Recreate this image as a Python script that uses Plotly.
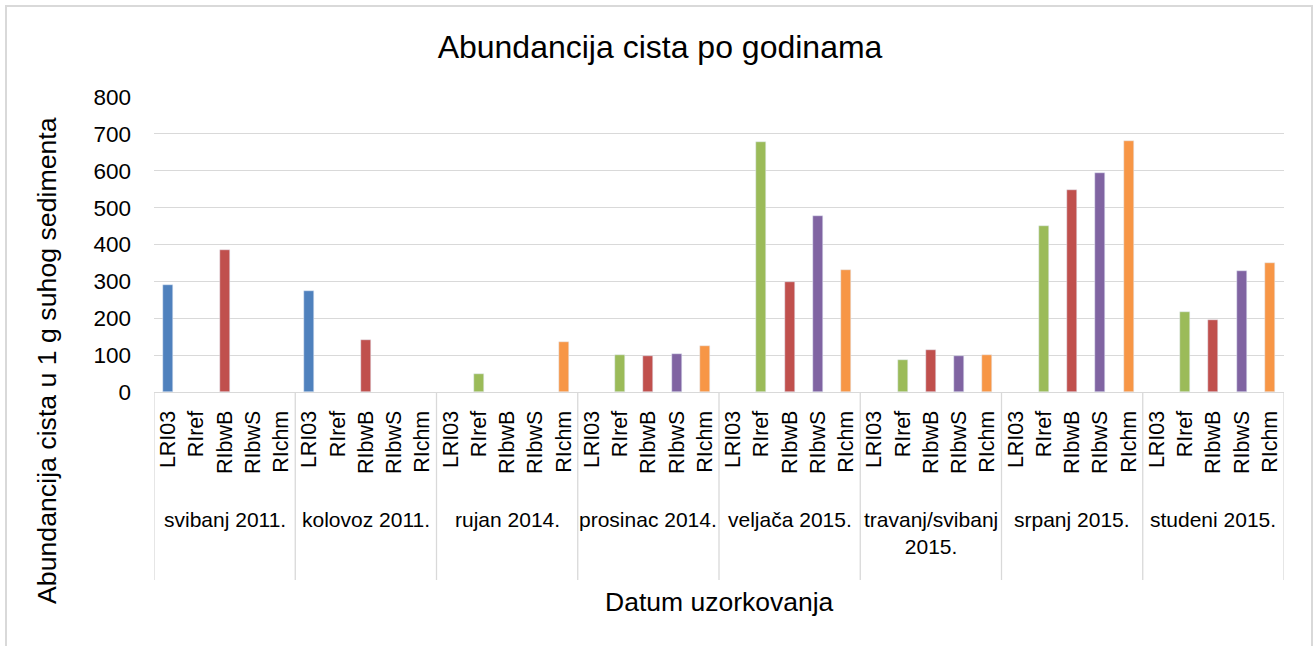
import plotly.graph_objects as go

groups = ["svibanj 2011.", "kolovoz 2011.", "rujan 2014.", "prosinac 2014.",
          "veljača 2015.", "travanj/svibanj<br>2015.", "srpanj 2015.", "studeni 2015."]
subs = ["LRI03", "RIref", "RIbwB", "RIbwS", "RIchm"]
sub_colors = ["#4F81BD", "#9BBB59", "#C0504D", "#8064A2", "#F79646"]

LRI03 = [291, 275, None, None, None, None, None, None]
RIref = [None, None, 49, 101, 677, 87, 451, 217]
RIbwB = [386, 141, None, 98, 299, 114, 549, 196]
RIbwS = [None, None, None, 103, 476, 98, 595, 329]
RIchm = [None, None, 136, 125, 332, 101, 682, 351]
series = [LRI03, RIref, RIbwB, RIbwS, RIchm]

yticks = [0, 100, 200, 300, 400, 500, 600, 700, 800]

xs, ys, cols, labels = [], [], [], []
for g in range(len(groups)):
    for s in range(len(subs)):
        xs.append(g * len(subs) + s)
        ys.append(series[s][g])
        cols.append(sub_colors[s])
        labels.append(subs[s])

FONT = "Liberation Sans, Arial, sans-serif"
W, H = 1316, 646
L, T = 154, 97
R = W - 1284
B = H - 392
ph = H - T - B
pw = W - L - R
base = 392


def py(screen_y):
    return (base - screen_y) / ph


def px(screen_x):
    return (screen_x - L) / pw


fig = go.Figure(go.Bar(x=xs, y=ys, marker_color=cols, width=0.35, showlegend=False,
                       hoverinfo="skip"))

shapes = []
n = len(subs)
for g in range(len(groups) + 1):
    shapes.append(dict(type="line", xref="x", yref="paper", x0=g * n - 0.5, x1=g * n - 0.5,
                       y0=0, y1=py(580), line=dict(color="#D9D9D9", width=1.3)))
shapes.append(dict(type="rect", xref="paper", yref="paper",
                   x0=px(6), x1=px(1312), y0=py(670), y1=py(6),
                   line=dict(color="#D9D9D9", width=2), layer="below"))

annotations = []
for g, name in enumerate(groups):
    annotations.append(dict(x=g * n + (n - 1) / 2, y=py(506), xref="x", yref="paper",
                            text=name, showarrow=False, yanchor="top", xanchor="center",
                            font=dict(family=FONT, size=21, color="#000000")))
annotations.append(dict(x=0.5, y=py(602), xref="paper", yref="paper", text="Datum uzorkovanja",
                        showarrow=False, yanchor="middle", xanchor="center",
                        font=dict(family=FONT, size=26.5, color="#000000")))
annotations.append(dict(x=px(47), y=py(361), xref="paper", yref="paper",
                        text="Abundancija cista u 1 g suhog sedimenta", textangle=-90,
                        showarrow=False, yanchor="middle", xanchor="center",
                        font=dict(family=FONT, size=26.7, color="#000000")))

fig.update_layout(
    width=W, height=H,
    margin=dict(l=L, r=R, t=T, b=B),
    paper_bgcolor="white", plot_bgcolor="white",
    title=dict(text="Abundancija cista po godinama", x=660 / W, xref="container",
               y=1 - 47 / H, yref="container", xanchor="center", yanchor="middle",
               font=dict(family=FONT, size=32, color="#000000")),
    xaxis=dict(range=[-0.5, len(xs) - 0.5], tickmode="array", tickvals=xs, ticktext=labels,
               tickangle=-90, showgrid=False, zeroline=False, showline=True,
               linecolor="#D9D9D9", linewidth=1.3, ticks="", ticklabelstandoff=9,
               tickfont=dict(family=FONT, size=21.5, color="#000000")),
    yaxis=dict(range=[0, 800], tickvals=yticks, showgrid=True, gridcolor="#D9D9D9", gridwidth=1.3,
               zeroline=False, showline=False, ticks="", ticklabelstandoff=22,
               tickfont=dict(family=FONT, size=22.5, color="#000000")),
    shapes=shapes, annotations=annotations, bargap=0, hovermode=False,
)

fig.write_html("out.html", config={"displayModeBar": False},
               post_script="document.body.style.margin='0';document.body.style.overflow='hidden';")
